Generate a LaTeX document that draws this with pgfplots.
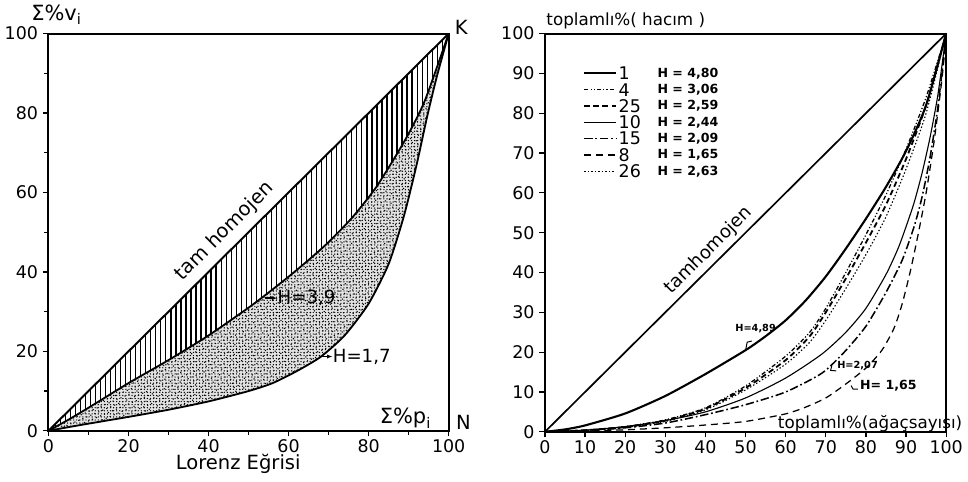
\documentclass[border=0pt]{standalone}
\usepackage{fontspec}
\setmainfont{DejaVu Sans}
\usepackage{pgfplots}
\usepackage{pgfplotstable}
\pgfplotsset{compat=1.18}
\usepgfplotslibrary{fillbetween}
\usetikzlibrary{patterns.meta, arrows.meta}

% left panel: Lorenz curves
\pgfplotstableread{
x y
0 0
100 100
}\diag
\pgfplotstableread{
x y
0 0
5 2.8
10 5.8
20 12
30 17.8
40 24
50 31
55 34.8
60 38.8
65 43
70 47.5
76 53.8
82 61.5
89 73
94 83
100 100
}\hthree
\pgfplotstableread{
x y
0 0
6 1.1
10 1.8
20 3.5
30 5.3
40 7.4
50 10
56 12
62 15
68 18.6
74 24
80 32
85 42
88.8 54
92 67
94.6 79
97 89
100 100
}\hone

% right panel: stands
\pgfplotstableread{
x y
0 0
5 0.6
10 1.6
20 4.6
30 9
40 14.5
50 20.5
55 24
60 28
65 33
70 39
75 46
80 53.5
85 61.5
90 70.5
95 82
100 100
}\sone
\pgfplotstableread{
x y
0 0
10 0.4
20 1.3
30 3
40 6
50 11.5
60 19
66 25
70 31
75 40
80 49.5
85 59.5
90 71
95 84
100 100
}\sfour
\pgfplotstableread{
x y
0 0
10 0.4
20 1.2
30 2.8
40 5.8
50 11
60 18
66 24
70 30
75 38.5
80 47.5
85 57
90 68.5
95 82
100 100
}\stwentyfive
\pgfplotstableread{
x y
0 0
10 0.4
20 1.3
30 2.8
40 5
50 8.5
60 13.5
69 19.5
75 25
80 31
85 39.5
88 46
90 51.5
92 57.5
94 65
96 74
98 85
100 100
}\sten
\pgfplotstableread{
x y
0 0
10 0.3
20 1
30 2.2
40 4.3
50 6.8
60 10
69 14.7
74.6 20
80 26.5
85 35
89 43
92 51.5
94 59
96 69
98 82
100 100
}\sfifteen
\pgfplotstableread{
x y
0 0
10 0.2
20 0.5
30 1
40 1.7
50 2.6
60 4.5
65 6.2
70 8.5
75 12
80 16
84 20.5
87 26
89 32
91 40
93 49.5
95 60
97 73
99 89
100 100
}\seight
\pgfplotstableread{
x y
0 0
10 0.3
20 1.1
30 2.6
40 5.5
50 10.5
60 17
66 22.5
70 28
75 36
80 44.5
85 54
90 66
95 80
100 100
}\stwentysix

\pgfplotsset{
  lorenz/.style={
    scale only axis,
    xmin=0, xmax=100, ymin=0, ymax=100,
    axis line style={line width=1.4pt},
    tick style={line width=0.9pt, black},
    tick align=outside,
    xtick pos=bottom, ytick pos=left,
    major tick length=4pt,
    minor tick length=3pt,
    ticklabel style={font=\fontsize{12.5}{12.5}\selectfont},
    xticklabel style={yshift=1pt},
    /pgf/number format/assume math mode=true,
    clip=false,
  },
  s1/.style={line width=1.5pt},
  s4/.style={line width=0.9pt, dash pattern=on 3pt off 1.5pt on 0.8pt off 1.5pt on 0.8pt off 1.5pt},
  s25/.style={line width=1.3pt, dash pattern=on 4pt off 2.5pt},
  s10/.style={line width=0.8pt},
  s15/.style={line width=1.1pt, dash pattern=on 6pt off 2pt on 1.2pt off 2pt},
  s8/.style={line width=0.9pt, dash pattern=on 5pt off 3.5pt},
  s26/.style={line width=0.8pt, dash pattern=on 1pt off 1.5pt},
}

\begin{document}
\begin{tikzpicture}

% ---------- left ----------
\begin{axis}[lorenz,
    at={(0,0)}, anchor=south west,
    width=10.075cm, height=10cm,
    xtick={0,20,...,100}, ytick={0,20,...,100},
    minor tick num=1,
]
\addplot[name path=dg, draw=none] table {\diag};
\addplot[name path=h3, draw=none, smooth, tension=0.4] table {\hthree};
\addplot[name path=h1, draw=none, smooth, tension=0.4] table {\hone};
\addplot[pattern={Lines[angle=90, distance=3.6pt, line width=0.9pt]}] fill between[of=dg and h3];
\addplot[fill=gray!22] fill between[of=h3 and h1];
\addplot[pattern={Dots[distance=2.2pt, radius=0.5pt]}] fill between[of=h3 and h1];
\addplot[pattern={Dots[distance=3.1pt, radius=0.55pt, angle=23, xshift=1pt]}] fill between[of=h3 and h1];
\addplot[line width=1.4pt] table {\diag};
\addplot[line width=1.3pt, smooth, tension=0.4] table {\hthree};
\addplot[line width=1.3pt, smooth, tension=0.4] table {\hone};

\node[rotate=45, font=\fontsize{14}{14}\selectfont, inner sep=1pt] at (axis cs:44,50.2) {tam homojen};
\draw[-{Latex[length=4pt]}, line width=1pt] (axis cs:54,33.4) -- (axis cs:57.2,33.4);
\node[anchor=west, inner sep=0pt, font=\fontsize{13}{13}\selectfont] at (axis cs:57.2,33.4) {H=3,9};
\draw[-{Latex[length=4pt]}, line width=1pt] (axis cs:68.2,18.7) -- (axis cs:71,18.7);
\node[anchor=west, inner sep=0pt, font=\fontsize{13}{13}\selectfont] at (axis cs:71,18.7) {H=1,7};
\node[font=\fontsize{15}{15}\selectfont] at (axis cs:2,104.8) {Σ\%v\textsubscript{i}};
\node[anchor=west, font=\fontsize{14}{14}\selectfont, inner sep=0pt] at (axis cs:101.5,101.5) {K};
\node[anchor=west, font=\fontsize{14}{14}\selectfont, inner sep=0pt] at (axis cs:101.8,2) {N};
\node[anchor=south, font=\fontsize{15}{15}\selectfont, inner sep=1pt] at (axis cs:89.2,0.2) {Σ\%p\textsubscript{i}};
\node[font=\fontsize{14}{14}\selectfont] at (axis cs:47.4,-8.4) {Lorenz  Eğrisi};
\end{axis}

% ---------- right ----------
\begin{axis}[lorenz,
    at={(12.5cm,-0.025cm)}, anchor=south west,
    width=10.1cm, height=10.025cm,
    xtick={0,10,...,100}, ytick={0,10,...,100},
]
\addplot[line width=1.2pt] table {\diag};
\addplot[s1, smooth, tension=0.4] table {\sone};
\addplot[s4, smooth, tension=0.4] table {\sfour};
\addplot[s25, smooth, tension=0.4] table {\stwentyfive};
\addplot[s10, smooth, tension=0.4] table {\sten};
\addplot[s15, smooth, tension=0.4] table {\sfifteen};
\addplot[s8, smooth, tension=0.4] table {\seight};
\addplot[s26, smooth, tension=0.4] table {\stwentysix};

% legend
\addplot[s1] coordinates {(9.8,90) (17.6,90)};
\addplot[s4] coordinates {(9.8,85.9) (17.6,85.9)};
\addplot[s25] coordinates {(9.8,81.8) (17.6,81.8)};
\addplot[s10] coordinates {(9.8,77.7) (17.6,77.7)};
\addplot[s15] coordinates {(9.8,73.6) (17.6,73.6)};
\addplot[s8] coordinates {(9.8,69.5) (17.6,69.5)};
\addplot[s26] coordinates {(9.8,65.4) (17.6,65.4)};
\begin{scope}[every node/.style={anchor=west, inner sep=0pt, font=\fontsize{12.5}{12.5}\selectfont}]
\node at (axis cs:18.3,90) {1};
\node at (axis cs:18.3,85.9) {4};
\node at (axis cs:18.3,81.8) {25};
\node at (axis cs:18.3,77.7) {10};
\node at (axis cs:18.3,73.6) {15};
\node at (axis cs:18.3,69.5) {8};
\node at (axis cs:18.3,65.4) {26};
\end{scope}
\begin{scope}[every node/.style={anchor=west, inner sep=0pt, font=\fontsize{9}{9}\selectfont\bfseries}]
\node at (axis cs:28,90) {H = 4,80};
\node at (axis cs:28,85.9) {H = 3,06};
\node at (axis cs:28,81.8) {H = 2,59};
\node at (axis cs:28,77.7) {H = 2,44};
\node at (axis cs:28,73.6) {H = 2,09};
\node at (axis cs:28,69.5) {H = 1,65};
\node at (axis cs:28,65.4) {H = 2,63};
\end{scope}

\node[rotate=45, font=\fontsize{13}{13}\selectfont] at (axis cs:40.8,45.5) {tamhomojen};
\node[font=\fontsize{12}{12}\selectfont, anchor=west, inner sep=0pt] at (axis cs:0.3,103.3) {toplamlı\%( hacım )};
\node[font=\fontsize{12}{12}\selectfont, anchor=base west, inner sep=0pt] at (axis cs:58,0.8) {toplamlı\%(ağaçsayısı)};

\draw[line width=0.7pt] (axis cs:50,20.5) -- (axis cs:50.4,22.5) -- (axis cs:51.6,22.8);
\node[font=\fontsize{7}{7}\selectfont\bfseries] at (axis cs:52.5,26) {H=4,89};
\draw[line width=0.7pt] (axis cs:71.5,16.6) -- (axis cs:71.2,15.4) -- (axis cs:72.6,15.3);
\node[font=\fontsize{7}{7}\selectfont\bfseries, anchor=west, inner sep=0pt] at (axis cs:72.8,16.6) {H=2,07};
\draw[line width=0.7pt] (axis cs:76.3,11.6) -- (axis cs:76.8,10.7) -- (axis cs:78,10.7);
\node[font=\fontsize{9}{9}\selectfont\bfseries, anchor=west, inner sep=0pt] at (axis cs:78.5,11.6) {H= 1,65};
\end{axis}

\path (-1.05,-1.275) rectangle (23.15,10.825);
\end{tikzpicture}
\end{document}
